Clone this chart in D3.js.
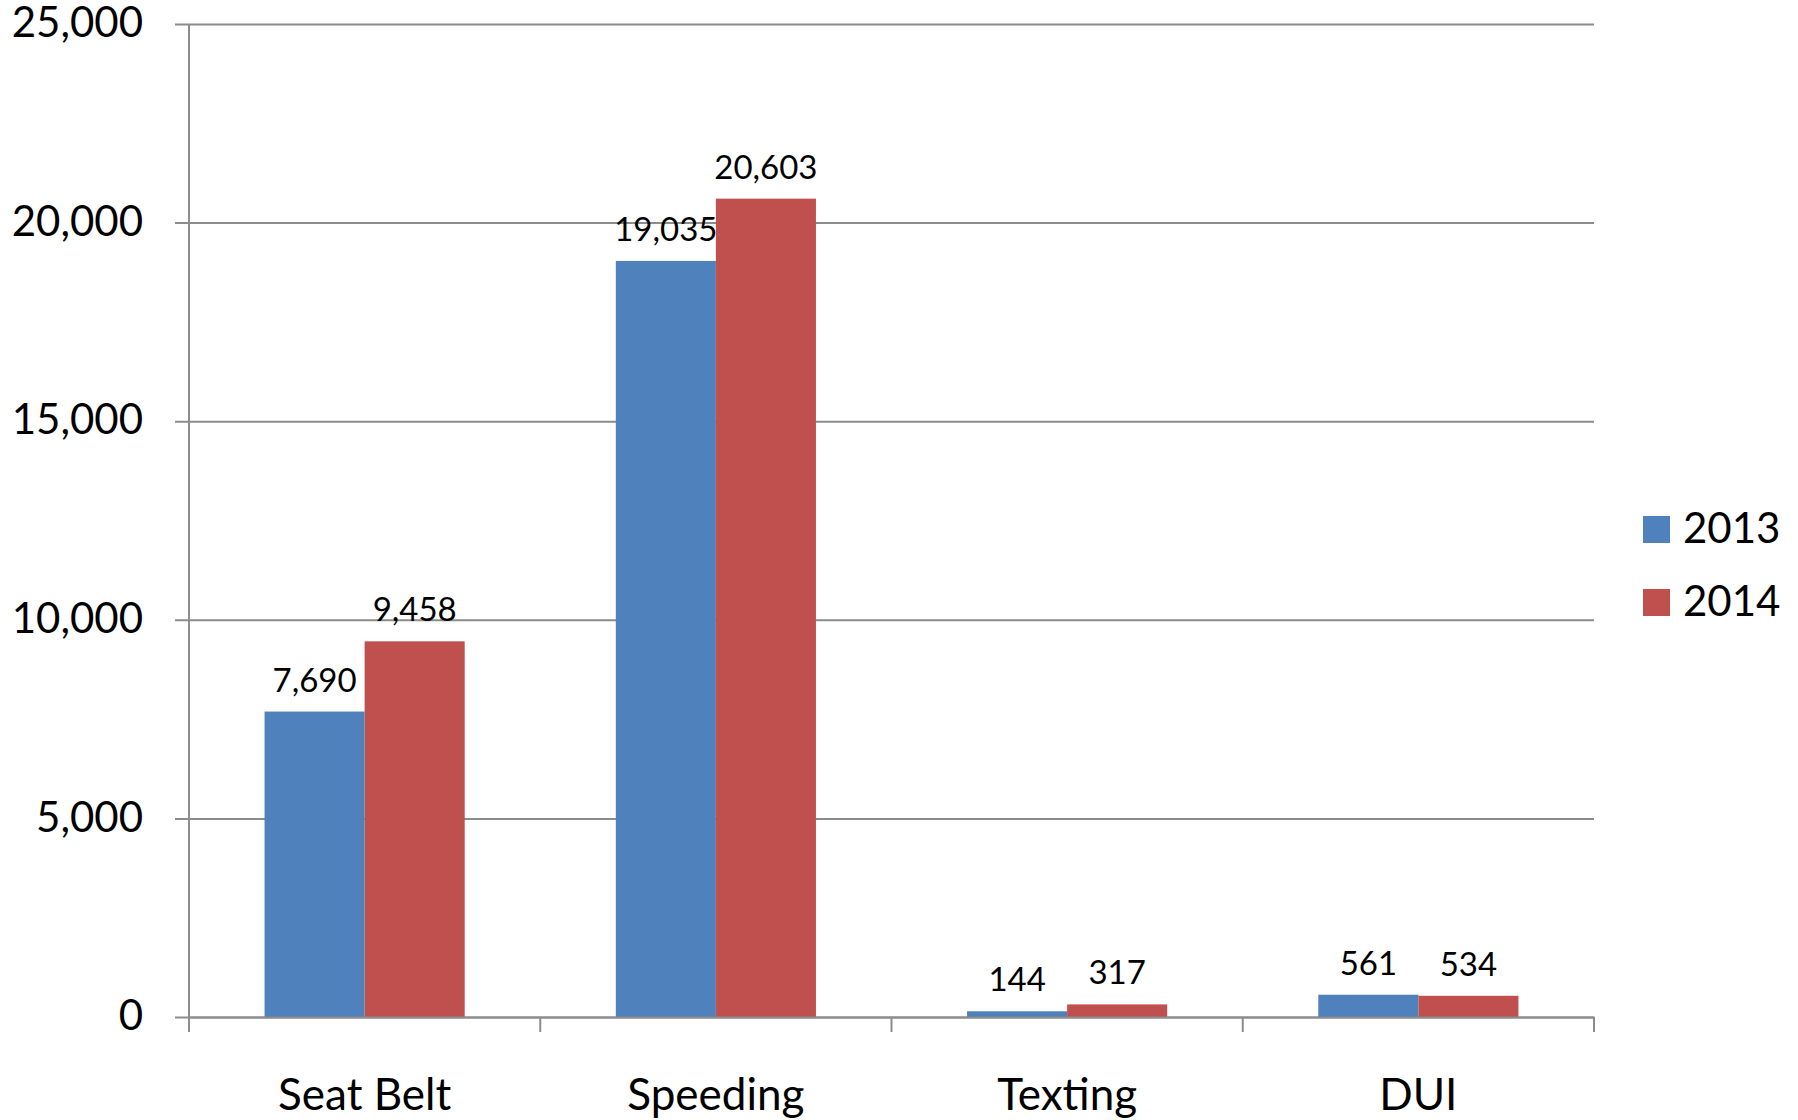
<!DOCTYPE html>
<html>
<head>
<meta charset="utf-8">
<script src="https://cdn.jsdelivr.net/npm/d3@7"></script>
<style>
  html, body { margin: 0; padding: 0; background: #fff; }
  svg { display: block; font-family: Lato, "Open Sans", sans-serif; }
</style>
</head>
<body>
<div id="chart"></div>
<script>
// chart data
const categories = ['Seat Belt', 'Speeding', 'Texting', 'DUI'];
const seriesNames = ['2013', '2014'];
const values2013 = [7690, 19035, 144, 561];
const values2014 = [9458, 20603, 317, 534];
const yTicks = [0, 5000, 10000, 15000, 20000, 25000];
const colors = ['#4F81BD', '#C0504D'];

const width = 1798;
const height = 1120;
const plot = { left: 189, right: 1594, top: 24, bottom: 1017 };

const svg = d3.select('#chart')
    .append('svg')
    .attr('width', width)
    .attr('height', height);

// scales
const y = d3.scaleLinear()
    .domain([0, 25000])
    .range([plot.bottom, plot.top]);

const x0 = d3.scaleBand()
    .domain(categories)
    .range([plot.left, plot.right])
    .padding(0);

const x1 = d3.scaleBand()
    .domain(seriesNames)
    .range([0, x0.bandwidth()])
    .paddingInner(0)
    .paddingOuter(0.755);

const fmt = d3.format(',');

// gridlines + y axis
const yAxis = d3.axisLeft(y)
    .tickValues(yTicks)
    .tickSize(-(plot.right - plot.left))
    .tickPadding(46)
    .tickFormat(fmt);

const gy = svg.append('g')
    .attr('transform', `translate(${plot.left},0)`)
    .call(yAxis)
    .attr('font-family', null)
    .attr('font-size', null);
gy.select('.domain').remove();
gy.selectAll('.tick line')
    .attr('x1', -14)
    .attr('stroke', '#8c8c8c')
    .attr('stroke-width', 2);
gy.selectAll('.tick text')
    .attr('fill', '#000')
    .attr('dy', '0.3em')
    .style('font-size', '42px');

// y axis line
svg.append('line')
    .attr('x1', plot.left).attr('x2', plot.left)
    .attr('y1', plot.top).attr('y2', plot.bottom + 15)
    .attr('stroke', '#8c8c8c')
    .attr('stroke-width', 2);

// bars
const rows = categories.map((c, i) => ({ cat: c, vals: [values2013[i], values2014[i]] }));

const groups = svg.append('g')
    .selectAll('g')
    .data(rows)
    .join('g')
    .attr('transform', d => `translate(${x0(d.cat)},0)`);

groups.selectAll('rect')
    .data(d => d.vals.map((v, j) => ({ name: seriesNames[j], v, j })))
    .join('rect')
    .attr('x', d => x1(d.name))
    .attr('y', d => y(d.v))
    .attr('width', x1.bandwidth())
    .attr('height', d => y(0) - y(d.v))
    .attr('fill', d => colors[d.j]);

groups.selectAll('text')
    .data(d => d.vals.map((v, j) => ({ name: seriesNames[j], v, j })))
    .join('text')
    .attr('x', d => x1(d.name) + x1.bandwidth() / 2)
    .attr('y', d => y(d.v) - 20)
    .attr('text-anchor', 'middle')
    .style('font-size', '33px')
    .text(d => fmt(d.v));

// x axis
const xAxis = d3.axisBottom(x0)
    .tickSize(0)
    .tickPadding(0);

const gx = svg.append('g')
    .attr('transform', `translate(0,${plot.bottom})`)
    .call(xAxis)
    .attr('font-family', null)
    .attr('font-size', null);
gx.select('.domain')
    .attr('stroke', '#8c8c8c')
    .attr('stroke-width', 2);
gx.selectAll('.tick text')
    .attr('fill', '#000')
    .attr('dy', 0)
    .attr('y', 93)
    .style('font-size', '44px');

// category separator ticks
const edges = categories.map(c => x0(c)).concat([plot.right]);
svg.append('g')
    .selectAll('line')
    .data(edges)
    .join('line')
    .attr('x1', d => d).attr('x2', d => d)
    .attr('y1', plot.bottom).attr('y2', plot.bottom + 15)
    .attr('stroke', '#8c8c8c')
    .attr('stroke-width', 2);

// legend
const legend = svg.append('g')
    .selectAll('g')
    .data(seriesNames)
    .join('g')
    .attr('transform', (d, i) => `translate(1643,${516 + i * 73})`);

legend.append('rect')
    .attr('width', 27)
    .attr('height', 27)
    .attr('fill', (d, i) => colors[i]);

legend.append('text')
    .attr('x', 40)
    .attr('y', 27)
    .style('font-size', '42px')
    .text(d => d);
</script>
</body>
</html>
